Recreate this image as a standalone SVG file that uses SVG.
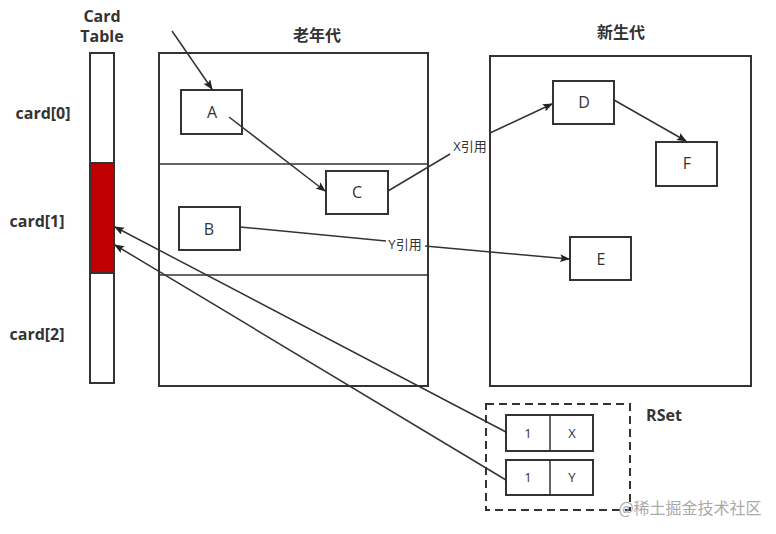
<svg xmlns="http://www.w3.org/2000/svg" width="776" height="534" viewBox="0 0 776 534">
<style>
.b{fill:#fff;stroke:#333;stroke-width:2}
.l{fill:none;stroke:#333;stroke-width:1.5}
.t{font-family:"Open Sans","Liberation Sans",sans-serif;font-size:16px;fill:#333;text-anchor:middle}
.h{font-family:"Open Sans","Liberation Sans","Noto Sans CJK SC",sans-serif;font-size:16px;font-weight:bold;fill:#333;text-anchor:middle}
.s{font-family:"Open Sans","Liberation Sans","Noto Sans CJK SC",sans-serif;font-size:13px;fill:#333;text-anchor:middle}
</style>
<defs><marker id="a" markerWidth="10" markerHeight="8" refX="9" refY="4" orient="auto" markerUnits="userSpaceOnUse"><path d="M0,0L10,4L0,8L2,4z" fill="#222"/></marker></defs>
<rect width="776" height="534" fill="#fff"/>
<g id="cardtable">
<rect class="b" x="90" y="53" width="24" height="330"/>
<rect x="90" y="163" width="24" height="110" fill="#c00000" stroke="#333" stroke-width="2"/>
<text class="h" x="102" y="22">Card</text><text class="h" x="102" y="42">Table</text>
<text class="h" x="43" y="119">card[0]</text>
<text class="h" x="37" y="227">card[1]</text>
<text class="h" x="37" y="340">card[2]</text>
</g>
<g id="old">
<rect class="b" x="159" y="53" width="269" height="333"/>
<line class="l" x1="159" y1="164" x2="428" y2="164" stroke-width="2"/>
<line class="l" x1="159" y1="275" x2="428" y2="275" stroke-width="2"/>
<text class="h" x="317" y="41">老年代</text>
</g>
<g id="young"><rect class="b" x="490" y="56" width="261" height="330"/><text class="h" x="621" y="38">新生代</text></g>
<g id="A"><rect class="b" x="181" y="90" width="61" height="44"/><text class="t" x="212" y="118">A</text></g>
<g id="B"><rect class="b" x="179" y="207" width="61" height="43"/><text class="t" x="209" y="235">B</text></g>
<g id="C"><rect class="b" x="326" y="171" width="62" height="43"/><text class="t" x="357" y="198">C</text></g>
<g id="D"><rect class="b" x="553" y="81" width="61" height="43"/><text class="t" x="584" y="108">D</text></g>
<g id="E"><rect class="b" x="570" y="237" width="61" height="43"/><text class="t" x="601" y="265">E</text></g>
<g id="F"><rect class="b" x="656" y="142" width="61" height="44"/><text class="t" x="687" y="169">F</text></g>
<g id="rset">
<rect x="486" y="404" width="144" height="106" fill="none" stroke="#333" stroke-width="2" stroke-dasharray="8,5"/>
<rect class="b" x="506" y="415" width="87" height="36"/><line class="l" x1="550" y1="415" x2="550" y2="451" stroke-width="2"/>
<rect class="b" x="506" y="460" width="87" height="35"/><line class="l" x1="550" y1="460" x2="550" y2="495" stroke-width="2"/>
<text class="s" x="528" y="438">1</text><text class="s" x="572" y="438">X</text>
<text class="s" x="528" y="482">1</text><text class="s" x="572" y="482">Y</text>
<text class="h" x="664" y="421">RSet</text>
</g>
<g id="connectors">
<line class="l" x1="172" y1="31" x2="212" y2="89" marker-end="url(#a)"/>
<line class="l" x1="229" y1="117" x2="325" y2="191" marker-end="url(#a)"/>
<polyline class="l" points="388,191 450,154"/>
<line class="l" x1="490" y1="133" x2="552" y2="104" marker-end="url(#a)"/>
<text class="s" x="470" y="151">X引用</text>
<line class="l" x1="240" y1="227" x2="386" y2="241"/>
<line class="l" x1="425" y1="246" x2="569" y2="259" marker-end="url(#a)"/>
<text class="s" x="405" y="249">Y引用</text>
<line class="l" x1="614" y1="100" x2="686" y2="141" marker-end="url(#a)"/>
<line class="l" x1="506" y1="432" x2="115" y2="227" marker-end="url(#a)"/>
<line class="l" x1="506" y1="480" x2="115" y2="245" marker-end="url(#a)"/>
</g>
<text x="690" y="514" font-family="Noto Sans CJK SC,sans-serif" font-size="16" fill="#aaa" text-anchor="middle">@稀土掘金技术社区</text>
</svg>
